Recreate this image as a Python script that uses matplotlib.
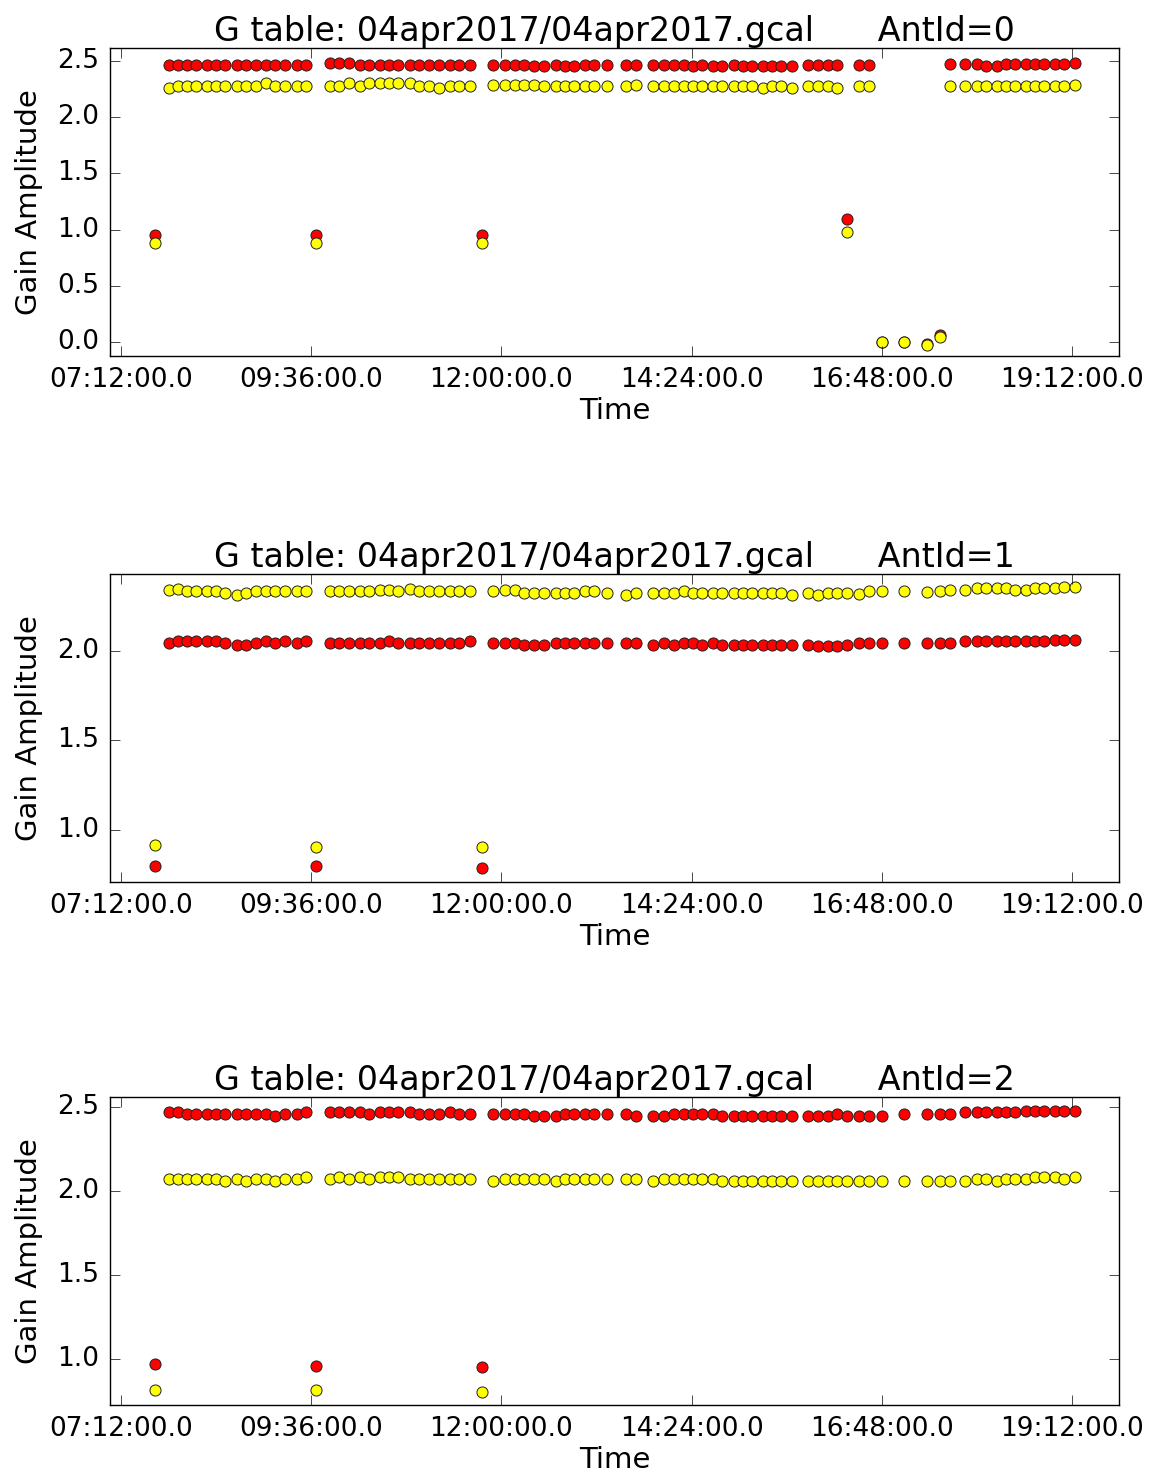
import matplotlib
matplotlib.use('Agg')
import matplotlib.pyplot as plt
from matplotlib.ticker import FuncFormatter, FixedLocator

plt.style.use('classic')
plt.rcParams['figure.facecolor'] = 'white'
plt.rcParams['savefig.facecolor'] = 'white'

# Solution times, minutes after midnight (calibrator scans at 458, 580, 705)
times_min = [
    458,
    468, 475, 482, 489, 497, 504, 511, 520, 527, 534, 542, 549, 556, 565, 572,
    580,
    590, 597, 605, 613, 620, 628, 635, 642, 651, 658, 665, 673, 681, 688, 696,
    705,
    714, 723, 730, 737, 745, 752, 761, 768, 775, 783, 790, 800,
    814, 822,
    835, 843, 851, 858, 865, 872, 880, 887, 896, 903, 910, 918, 925, 932, 940,
    952, 960, 967, 974, 982, 991, 998, 1008, 1025, 1042, 1052, 1060,
    1071, 1080, 1087, 1095, 1102, 1109, 1117, 1124, 1131, 1139, 1146, 1154,
]

# Antenna 0 gain amplitudes (pol 1 = red, pol 2 = yellow)
ant0_pol1 = [
    0.955,
    2.467, 2.467, 2.467, 2.467, 2.467, 2.467, 2.467, 2.467, 2.467, 2.467, 2.467, 2.467, 2.467, 2.467, 2.467,
    0.955,
    2.485, 2.485, 2.485, 2.467, 2.467, 2.467, 2.467, 2.467, 2.467, 2.467, 2.467, 2.467, 2.467, 2.467, 2.467,
    0.955,
    2.467, 2.467, 2.467, 2.467, 2.450, 2.450, 2.467, 2.456, 2.456, 2.467, 2.467, 2.467,
    2.467, 2.467,
    2.467, 2.467, 2.467, 2.467, 2.450, 2.467, 2.456, 2.456, 2.467, 2.456, 2.456, 2.456, 2.456, 2.456, 2.456,
    2.460, 2.460, 2.460, 2.460, 1.097, 2.460, 2.460, 0.000, 0.000, -0.015, 0.070, 2.470,
    2.470, 2.470, 2.456, 2.456, 2.470, 2.470, 2.470, 2.470, 2.470, 2.470, 2.470, 2.485,
]
ant0_pol2 = [
    0.885,
    2.263, 2.281, 2.281, 2.281, 2.281, 2.281, 2.281, 2.281, 2.281, 2.281, 2.299, 2.281, 2.281, 2.281, 2.281,
    0.885,
    2.281, 2.281, 2.299, 2.281, 2.299, 2.299, 2.299, 2.299, 2.299, 2.281, 2.281, 2.263, 2.281, 2.281, 2.281,
    0.885,
    2.290, 2.290, 2.290, 2.290, 2.290, 2.273, 2.273, 2.273, 2.273, 2.273, 2.273, 2.273,
    2.273, 2.290,
    2.273, 2.273, 2.273, 2.273, 2.273, 2.273, 2.273, 2.273, 2.273, 2.273, 2.273, 2.255, 2.273, 2.273, 2.255,
    2.273, 2.273, 2.273, 2.255, 0.981, 2.273, 2.273, 0.000, 0.004, -0.020, 0.046, 2.273,
    2.273, 2.273, 2.273, 2.273, 2.273, 2.273, 2.273, 2.273, 2.273, 2.273, 2.273, 2.290,
]

# Antenna 1
ant1_pol1 = [
    0.799,
    2.043, 2.054, 2.054, 2.054, 2.054, 2.054, 2.043, 2.034, 2.034, 2.043, 2.054, 2.043, 2.054, 2.043, 2.054,
    0.800,
    2.043, 2.043, 2.043, 2.043, 2.043, 2.043, 2.054, 2.043, 2.043, 2.043, 2.043, 2.043, 2.043, 2.043, 2.054,
    0.788,
    2.043, 2.043, 2.043, 2.034, 2.034, 2.034, 2.043, 2.043, 2.043, 2.043, 2.043, 2.043,
    2.043, 2.043,
    2.034, 2.043, 2.034, 2.043, 2.043, 2.034, 2.043, 2.034, 2.034, 2.034, 2.034, 2.034, 2.034, 2.034, 2.034,
    2.034, 2.026, 2.026, 2.026, 2.034, 2.043, 2.043, 2.043, 2.043, 2.043, 2.043, 2.043,
    2.054, 2.054, 2.054, 2.054, 2.054, 2.054, 2.054, 2.054, 2.054, 2.061, 2.061, 2.061,
]
ant1_pol2 = [
    0.916,
    2.342, 2.346, 2.335, 2.335, 2.335, 2.335, 2.324, 2.313, 2.324, 2.335, 2.335, 2.335, 2.335, 2.335, 2.335,
    0.905,
    2.335, 2.335, 2.335, 2.335, 2.335, 2.342, 2.342, 2.335, 2.346, 2.335, 2.335, 2.335, 2.335, 2.335, 2.335,
    0.905,
    2.335, 2.339, 2.339, 2.324, 2.324, 2.324, 2.324, 2.324, 2.324, 2.335, 2.335, 2.324,
    2.313, 2.324,
    2.324, 2.324, 2.324, 2.335, 2.324, 2.324, 2.324, 2.324, 2.324, 2.324, 2.324, 2.324, 2.324, 2.324, 2.313,
    2.324, 2.313, 2.324, 2.324, 2.324, 2.318, 2.335, 2.335, 2.335, 2.331, 2.335, 2.342,
    2.342, 2.350, 2.350, 2.350, 2.350, 2.342, 2.342, 2.350, 2.350, 2.350, 2.358, 2.358,
]

# Antenna 2
ant2_pol1 = [
    0.972,
    2.470, 2.474, 2.462, 2.462, 2.462, 2.462, 2.462, 2.462, 2.462, 2.462, 2.462, 2.450, 2.462, 2.462, 2.474,
    0.962,
    2.470, 2.470, 2.470, 2.470, 2.458, 2.470, 2.470, 2.470, 2.470, 2.458, 2.462, 2.462, 2.470, 2.462, 2.462,
    0.952,
    2.462, 2.462, 2.462, 2.462, 2.450, 2.450, 2.450, 2.462, 2.462, 2.462, 2.462, 2.462,
    2.462, 2.450,
    2.450, 2.450, 2.462, 2.462, 2.462, 2.462, 2.462, 2.450, 2.450, 2.450, 2.450, 2.450, 2.450, 2.450, 2.450,
    2.450, 2.450, 2.450, 2.462, 2.450, 2.450, 2.450, 2.450, 2.462, 2.462, 2.462, 2.462,
    2.470, 2.470, 2.470, 2.470, 2.470, 2.470, 2.478, 2.478, 2.478, 2.478, 2.478, 2.478,
]
ant2_pol2 = [
    0.816,
    2.076, 2.076, 2.076, 2.076, 2.076, 2.076, 2.064, 2.076, 2.064, 2.076, 2.076, 2.064, 2.076, 2.076, 2.088,
    0.816,
    2.076, 2.088, 2.076, 2.088, 2.076, 2.088, 2.088, 2.088, 2.076, 2.076, 2.076, 2.076, 2.076, 2.076, 2.076,
    0.806,
    2.064, 2.076, 2.076, 2.076, 2.076, 2.076, 2.064, 2.076, 2.076, 2.076, 2.076, 2.076,
    2.076, 2.076,
    2.064, 2.076, 2.076, 2.076, 2.076, 2.076, 2.076, 2.064, 2.064, 2.064, 2.064, 2.064, 2.064, 2.064, 2.064,
    2.064, 2.064, 2.064, 2.064, 2.064, 2.064, 2.064, 2.064, 2.064, 2.064, 2.064, 2.064,
    2.064, 2.076, 2.076, 2.064, 2.076, 2.076, 2.076, 2.088, 2.088, 2.088, 2.076, 2.088,
]

ant_ids = [0, 1, 2]
caltable = '04apr2017/04apr2017.gcal'
x_ticks = [432, 576, 720, 864, 1008, 1152]
y_ticks = [
    [0.0, 0.5, 1.0, 1.5, 2.0, 2.5],
    [1.0, 1.5, 2.0],
    [1.0, 1.5, 2.0, 2.5],
]
y_limits = [(-0.12, 2.615), (0.709, 2.430), (0.727, 2.562)]


def hms_label(x, pos):
    h = int(x // 60)
    m = int(round(x - h * 60))
    return '%02d:%02d:00.0' % (h, m)


fig = plt.figure(figsize=(11.53, 14.74), dpi=100)
bottoms = [0.7585, 0.4016, 0.0468]
pol1_sets = [ant0_pol1, ant1_pol1, ant2_pol1]
pol2_sets = [ant0_pol2, ant1_pol2, ant2_pol2]

for i, ant in enumerate(ant_ids):
    ax = fig.add_axes([0.0954, bottoms[i], 0.8751, 0.2090])
    ax.plot(times_min, pol1_sets[i], 'o', color='#ff0000', markersize=8,
            markeredgecolor='#222222', markeredgewidth=0.7, linestyle='none')
    ax.plot(times_min, pol2_sets[i], 'o', color='#ffff00', markersize=8,
            markeredgecolor='#222222', markeredgewidth=0.7, linestyle='none')

    ax.set_xlim(423.7, 1187.6)
    ax.set_ylim(*y_limits[i])
    ax.xaxis.set_major_locator(FixedLocator(x_ticks))
    ax.xaxis.set_major_formatter(FuncFormatter(hms_label))
    ax.yaxis.set_major_locator(FixedLocator(y_ticks[i]))
    ax.yaxis.set_major_formatter(FuncFormatter(lambda v, p: '%.1f' % v))
    ax.tick_params(direction='in', top=True, right=True, length=7,
                   labelsize=19, pad=8)
    ax.minorticks_off()

    ax.set_title('G table: %s      AntId=%d' % (caltable, ant), fontsize=24)
    ax.set_xlabel('Time', fontsize=21, labelpad=3)
    ax.set_ylabel('Gain Amplitude', fontsize=21, labelpad=10)

fig.savefig('out.png', dpi=100)
